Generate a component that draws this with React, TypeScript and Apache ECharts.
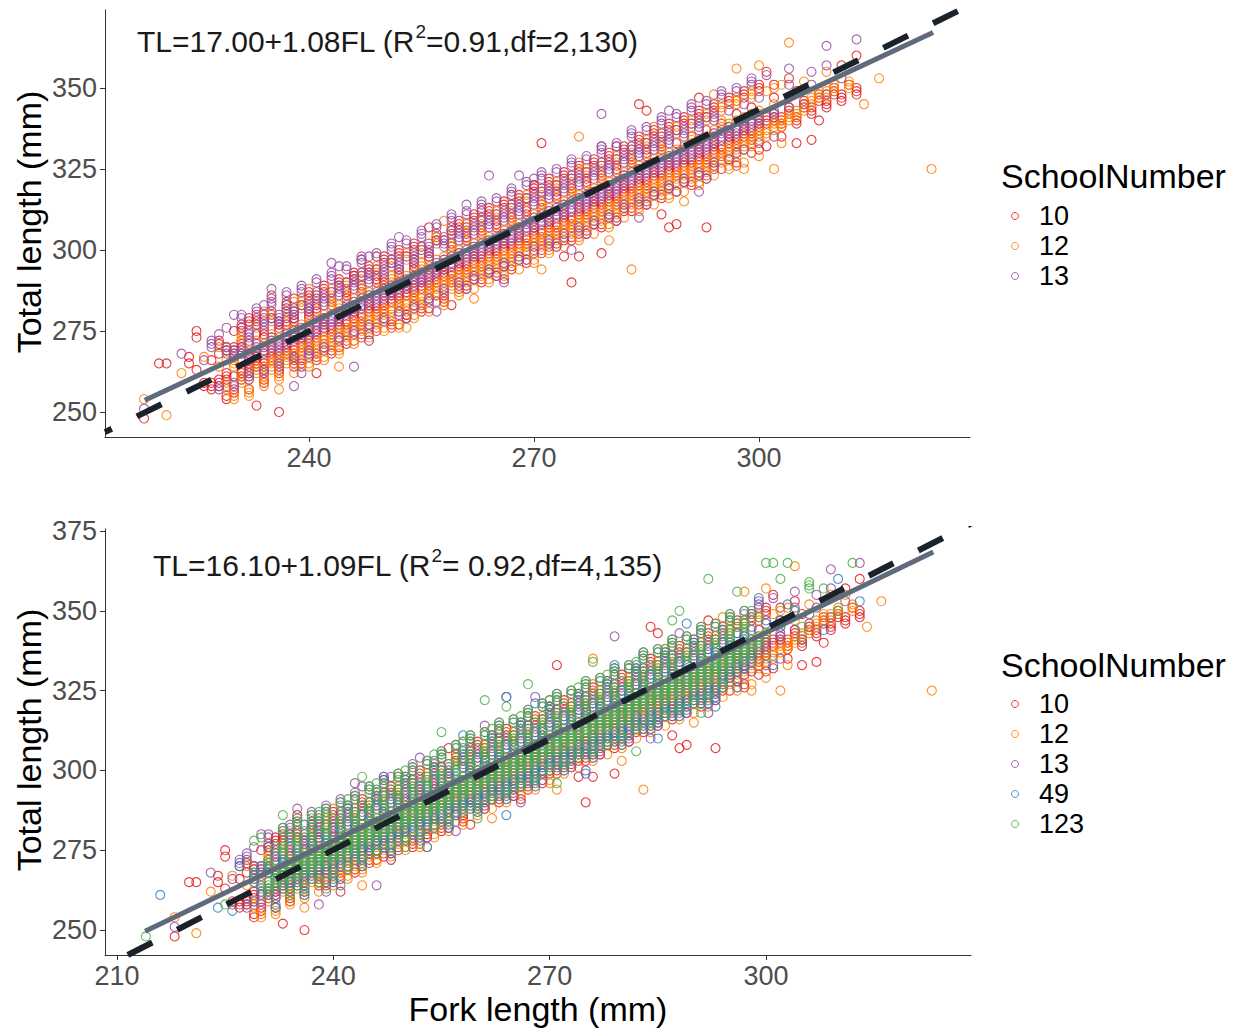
import React, { useEffect, useRef } from "react";
import * as echarts from "echarts";

// ---------- DATA: "Fork length : Total length values / runs" (mm) ----------
const schools = ["10", "12", "13", "49", "123"];
const schoolColors = ["#E41A1C", "#FF7F00", "#984EA3", "#377EB8", "#4DAF4A"];

const school10 = [
  "218:248", "220:265", "221:265", "224:265,267", "225:263,273,275", "226:258-259", "227:257-259,266",
  "228:258-260,268", "229:260-262,269-270", "230:261,268-270,275", "231:260-263,270-272",
  "232:262-265,271,277-279", "233:264-267,274", "234:263-266,273-275,280", "235:266-269,286",
  "236:250,266-268,275-278", "237:268-271,277-279", "238:267-270,278-281", "239:270-273,283",
  "240:269-272,279-282", "241:272-275,281-283", "242:271,275-279", "243:273-276,283-285", "244:270,276-279",
  "245:275-278,285-288", "246:278-281,292", "247:277-280,287-289", "248:274,281-284", "249:280-283,290-292",
  "250:281-284,289-291", "251:284-287,296", "252:283-286,292-294", "253:280,286-289", "254:285-288,294-297",
  "255:283,288-291", "256:287-290,297-299", "257:286,290-293", "258:292-295,303", "259:290-293,300-302",
  "260:288,294-297", "261:293-296,303-306", "262:291,296-299", "263:295-298,305-307", "264:293,298-301",
  "265:297-300,307-309", "266:295,300-303", "267:299-302,309-311", "268:297,302-305", "269:301-304,311-313",
  "270:299,304-307", "271:303-306,313-315,333", "272:301,306-309", "273:305-308,316-318", "274:303,308-311",
  "275:290,307-310,318-320", "276:298,305,310-313", "277:310-313,320-322", "278:308,313-316",
  "279:299,312-315,322-324", "280:310,315-318", "281:314-317,324-326", "282:312,317-320",
  "283:317-320,327-329", "284:314,320-323,345", "285:319-322,329-331", "286:317,322-325",
  "287:321-324,331-333", "288:307,319,324-327", "289:308,323-326,333", "290:321,326-329", "291:325-328,335",
  "292:323,328-331", "293:307,327-330,337", "294:325,330-333", "295:329-332,339", "296:328,333-336",
  "297:332-335,342", "298:335-338", "299:334-337,344", "300:331,337-340", "301:339-341", "302:340-342,347",
  "303:338-341", "304:342-344", "305:339-341,349", "306:344-346", "307:334,342-344", "308:340,346-348",
  "309:344-346", "310:348-350", "311:346-348,357", "312:351", "313:348-350,360",
];
const school10Fringe = [
  "228:271-272", "229:254-255", "230:256-257", "231:275-277", "232:257", "233:278-280", "234:259-260",
  "235:279-281", "236:262-263", "237:283-284", "238:264-265,285", "239:264-266", "240:285-287",
  "241:266-268", "242:287-289", "243:268-269", "244:289-291", "245:271-272", "246:272,291-293",
  "247:273-274", "248:293-295", "249:275-276", "250:296-298", "251:276-278", "252:298-300", "253:279-280",
  "254:300-302", "255:281-282", "256:282,302", "257:303-305", "258:284-286", "259:306-307", "260:307-309",
  "261:288-289", "262:309-311", "263:290-291", "264:311-313", "265:292-293", "266:313-315", "267:294-295",
  "268:315-317", "269:296-297", "270:318-320", "271:299-300", "272:320-322", "273:301-302", "274:322-324",
  "275:303-304", "276:324-326", "277:305-306", "278:326-328", "279:307-308", "280:328-330", "281:309-310",
  "282:330-332", "283:312-313", "284:333-335", "285:314-315", "286:335-337", "287:316-317", "288:337-339",
  "289:318", "290:339-341", "291:320-321", "292:341-343", "293:322-323", "294:343-345", "295:325",
  "296:345-347", "297:327", "298:347-349", "299:330", "300:349-351", "301:332", "302:351", "303:335",
  "304:353",
];
const school10Outliers = [
  "233:252", "241:262", "247:297", "252:277", "256:307", "259:283", "263:312", "266:291", "270:320",
  "274:298", "281:332", "285:343", "287:311", "292:347", "297:326", "301:355", "305:333",
];

const school12 = [
  "218:254", "221:249", "223:262", "226:267", "228:264,270", "229:257-259,266", "230:264-266",
  "231:259-261,268", "232:260-262,267-269", "233:262-264,272", "234:261-264,269-271,281",
  "235:263-266,272-274", "236:264-267,271-273", "237:265-268,275", "238:265-268,273-276,284",
  "239:267-270,277,285", "240:268-271,275-278", "241:268-271,279", "242:270-273,277-280",
  "243:270-273,282-284", "244:272-275,280-283", "245:273-276,284,290", "246:275-278,282-285",
  "247:275-278,286-288", "248:277-280,284-287", "249:277-280,288,295", "250:279-282,286-289",
  "251:279-282,290-292", "252:281-284,288-291", "253:281-284,292,299", "254:283-286,290-293",
  "255:283-286,294-296", "256:285-288,292-295", "257:286-289,297,304", "258:288-291,295-298",
  "259:288-291,299-301", "260:290-293,297-300", "261:290-293,301,308", "262:292-295,299-302",
  "263:292-295,303-305", "264:294-297,301-304", "265:294-297,305,312", "266:296-299,303-306",
  "267:296-299,307-309", "268:298-301,305-308", "269:299-302,310,316", "270:301-304,308-311",
  "271:301-304,312-314", "272:303-306,310-313", "273:303-306,314,320", "274:305-308,312-315",
  "275:305-308,316-318", "276:307-310,314-317,335", "277:307-310,318,324", "278:309-312,316-319",
  "279:309-312,320-322", "280:311-314,318-321", "281:311-314,322,328", "282:313-316,321-324",
  "283:294,314-317,325-327", "284:316-319,323-326", "285:316-319,327,333", "286:318-321,325-328",
  "287:318-321,329-331", "288:320-323,327-330", "289:320-323,331,337", "290:322-325,329-332",
  "291:322-325,333-335", "292:324-327,331-334", "293:324-327,335,341", "294:326-329,334-337",
  "295:327-330,338-340", "296:329-332,336-339", "297:329-332,340,346", "298:331-334,338-341",
  "299:332-335,342", "300:334-337,340-343", "301:335-337,349", "302:325,337-340,345", "303:338-340,351",
  "304:340-342,347,364", "305:341-343", "306:343-345,352", "307:345-347", "308:347-349",
  "309:347-349,355", "310:349-351", "311:355", "312:350-352", "314:345", "316:353", "323:325",
];
const school12Fringe = [
  "229:269-270", "230:254-255", "231:272-274", "232:255-257", "233:276-277", "234:258-259", "235:278-280",
  "236:260-261", "237:280-282", "238:262", "239:282-284", "240:264-265", "241:284-286", "242:266-267",
  "243:286-288", "244:268-269", "245:288-290", "246:271-272", "247:291-293", "248:272-273", "249:293-294",
  "250:275-276", "251:295-297", "252:276-277", "253:297-298", "254:279-280", "255:299-301", "256:281",
  "257:302-304", "258:283-284", "259:304-306", "260:286-287", "261:306-308", "262:288", "263:308-310",
  "264:290-291", "265:310-312", "266:292-293", "267:312-314", "268:294", "269:315-317", "270:296-297",
  "271:317-319", "272:299-300", "273:319-321", "274:301", "275:321-323", "276:303-304", "277:323-325",
  "278:305", "279:325-327", "280:307-308", "281:327-329", "282:310", "283:330-332", "284:312-313",
  "285:332-334", "286:314", "287:334-336", "288:316-317", "289:336-338", "290:318", "291:338-340",
  "292:320-321", "293:340-342", "294:323", "295:343-345", "296:325-326", "297:345-347", "298:327",
  "299:347-349", "300:329", "302:350", "303:333",
];
const school12Outliers = [
  "236:257", "240:288", "244:264", "249:298", "253:276", "258:309", "262:285", "267:317", "271:294",
  "276:327", "280:303", "286:338", "290:315", "294:348", "298:325", "300:357", "297:356",
];

const school13 = [
  "218:251", "223:268", "226:266", "227:270-272", "228:274", "229:276", "230:267-269,280",
  "231:268-270,276", "232:266-268,272-275", "233:268-271,277", "234:268-270,276-279,283",
  "235:270-273,279", "236:269-272,277-280", "237:271-274,281-283", "238:258,272-275,279-282",
  "239:273-276,283", "240:273-276,281-284", "241:275-278,285-287", "242:276-279,283-286",
  "243:277-280,287,296", "244:278-281,286-289", "245:280-283,290", "246:264,281-284,288-291",
  "247:282-285,292-293", "248:283-286,290-293,298", "249:284-287,294", "250:285-288,292-295",
  "251:286-289,296-297", "252:287-290,294-297", "253:279,288-291,298", "254:289-292,296-299",
  "255:290-293,300-301", "256:291-294,298-301", "257:284,293-296,303", "258:294-297,301-304",
  "259:295-298,305-306", "260:296-299,303-306", "261:288,297-300,307", "262:298-301,305-308",
  "263:299-302,309-310", "264:300-303,307-310,323", "265:292,301-304,311", "266:302-305,309-312",
  "267:303-306,313-314", "268:304-307,311-314,323", "269:297,306-309,316", "270:307-310,314-317",
  "271:308-311,318-319", "272:309-312,316-319", "273:301,310-313,320", "274:311-314,318-321",
  "275:312-315,322-323", "276:313-316,320-323", "277:305,314-317,324", "278:315-318,322-325",
  "279:316-319,326-327,342", "280:317-320,324-327", "281:309,318-321,328", "282:320-323,327-330",
  "283:321-324,331-332", "284:322-325,329-332", "285:314,323-326,333", "286:324-327,331-334",
  "287:325-328,335-336", "288:326-329,333-336", "289:318,327-330,337", "290:328-331,335-338",
  "291:329-332,339", "292:330-333,337-340", "293:322,331-334,341", "294:333-336,340-342",
  "295:334-337", "296:335-338,343", "297:330,336-338", "298:337-340,345", "299:338-340",
  "300:339-341,347", "302:341-343", "304:344,351", "306:345", "307:351", "309:348,357", "311:353",
  "313:365",
];
const school13Fringe = [
  "228:257-258", "229:268-270", "230:258-259", "231:279-280", "232:260-262", "233:281-282", "234:262-263",
  "235:283-285", "236:264-265", "237:286-287", "238:266-267", "239:287-289", "240:267-269", "241:290-291",
  "242:269-270", "243:291-293", "244:272-273", "245:294-295", "246:274-275", "247:296-298", "248:276-277",
  "249:298-299", "250:278-279", "251:300-302", "252:280-281", "253:302-303", "254:282-283", "255:304-306",
  "256:284-285", "257:307-308", "258:287-288", "259:309-311", "260:289-290", "261:311-312", "262:291-292",
  "263:313-315", "264:293-294", "265:315-316", "266:295-296", "267:317-319", "268:297-298", "269:320-321",
  "270:300-301", "271:322-324", "272:302-303", "273:324-325", "274:304-305", "275:326-328", "276:306-307",
  "277:328-329", "278:308-309", "279:330-332", "280:310-311", "281:332-333", "282:313-314", "283:335-337",
  "284:315-316", "285:337-338", "286:317-318", "287:339-341", "288:319-320", "289:341-342", "290:321-322",
  "291:343-345", "292:323-324", "293:345-346", "294:326-327", "295:347-349", "296:328", "297:349-350",
  "298:331", "299:351-353", "300:333", "301:354", "302:335",
];
const school13Outliers = [
  "235:288", "239:262", "244:295", "248:272", "252:304", "257:281", "261:314", "266:290", "270:322",
  "275:300", "279:332", "284:310", "288:343", "292:318", "304:356", "307:355", "309:363",
];

const school49 = [
  "216:261", "224:257", "226:256", "227:270", "228:273", "229:259,265-267", "230:262-264,270",
  "231:261-263,268-270", "232:264-266,273", "233:263-266,271-273", "234:265-268,276,282",
  "235:264-267,273-276", "236:267-270,278", "237:266-269,275-278", "238:269-272,280,286",
  "239:268-271,277-280", "240:271-274,282", "241:270-273,279-282", "242:273-276,284,289",
  "243:272-275,281-284", "244:275-278,286", "245:274-277,284-287", "246:277-280,289,294",
  "247:276-279,286-289", "248:279-282,291", "249:278-281,288-291", "250:281-284,293,298",
  "251:280-283,290-293", "252:283-286,295", "253:282-285,292-295", "254:285-288,297,303",
  "255:284-287,294-297", "256:287-290,299", "257:286-289,296-299", "258:289-292,301,307",
  "259:288-291,299-302", "260:291-294,304", "261:290-293,301-304", "262:293-296,306,311",
  "263:292-295,303-306", "264:295-298,308,323", "265:294-297,305-308", "266:297-300,310,315",
  "267:296-299,307-310", "268:299-302,312", "269:299-302,310-313", "270:302-305,315,320",
  "271:301-304,312-315", "272:304-307,317", "273:303-306,314-317", "274:306-309,319,324",
  "275:305-308,316-319", "276:308-311,321", "277:307-310,318-321", "278:310-313,323,328",
  "279:309-312,320-323", "280:312-315,325", "281:311-314,322-325", "282:314-317,327,333",
  "283:313-316,325-328", "284:316-319,330", "285:315-318,327-330", "286:318-321,332,337",
  "287:317-320,329-332", "288:320-323,334", "289:319-322,331-334", "290:322-325,336,341",
  "291:321-324,333-336", "292:324-327,338", "293:323-326,335-338", "294:327-330,340",
  "295:329-331,338-341", "296:331-333,343", "297:332-334,340-343", "298:334-336,344", "300:336,346",
  "302:345-347", "303:352", "304:350", "305:341", "306:349", "308:344", "310:360", "313:353",
];
const school49Fringe = [
  "232:257-258", "234:279-280", "236:261-262", "238:283-284", "240:265-266", "242:287-288", "244:270-271",
  "246:291-292", "248:274-275", "250:296-297", "252:278-279", "254:300-301", "256:282-283", "258:305-306",
  "260:287-288", "262:309-310", "264:291-292", "266:313-314", "268:295-296", "270:318-319", "272:300-301",
  "274:322-323", "276:304-305", "278:326-327", "280:308-309", "282:331-332", "284:313-314", "286:335-336",
  "288:317-318", "290:339-340", "292:321-322", "294:344", "296:326",
];
const school49Outliers = [
  "231:276", "236:283", "241:264", "247:298", "253:276", "258:311", "264:286", "268:321", "275:299",
  "279:333", "285:310", "289:346", "293:320", "298:349", "301:333", "299:354",
];

const school123 = [
  "214:248", "225:258", "229:278", "230:279", "231:262-265,270-272", "232:264-269,276",
  "233:265-270,274-277", "234:266-272,279", "235:267-273,276-279", "236:268-274,281",
  "237:269-275,278-281", "238:270-276,283,287", "239:271-277,280-283", "240:272-278,285",
  "241:273-279,282-285", "242:274-280,287,291", "243:275-281,284-287", "244:277-283,289",
  "245:278-284,287-290", "246:279-285,292,296", "247:280-286,289-292", "248:281-287,294",
  "249:282-288,291-294", "250:283-289,296,300", "251:284-290,293-296", "252:285-291,298",
  "253:286-292,295-298", "254:287-293,300,305", "255:288-294,297-300", "256:289-295,302",
  "257:291-297,300-303", "258:292-298,305,309", "259:293-299,302-305", "260:294-300,307",
  "261:295-301,304-307,322", "262:296-302,309,313", "263:297-303,306-309", "264:298-304,311",
  "265:299-305,308-311", "266:300-306,313,317", "267:301-307,310-313,327", "268:302-308,315",
  "269:304-310,313-316", "270:305-311,318,322", "271:306-312,315-318", "272:307-313,320",
  "273:308-314,317-320", "274:309-315,322,326", "275:310-316,319-322", "276:311-317,324",
  "277:312-318,321-324", "278:313-319,326,330", "279:314-320,323-326", "280:315-321,328",
  "281:316-322,325-328", "282:318-324,330,334", "283:319-325,328-331", "284:320-326,333",
  "285:321-327,330-333", "286:322-328,335,338", "287:323-329,332-335", "288:324-330,337,350",
  "289:325-331,334-337", "290:326-332,339", "291:327-333,336-339", "292:328-334,341,360",
  "293:329-335,339-341", "294:331-337,343", "295:332-338,341-344", "296:334-339,346",
  "297:335-340,344-347", "298:337-341,350", "299:339-342,348", "300:343,365", "301:365", "303:365",
  "305:345", "306:357-359", "308:357", "310:350", "312:365",
];
const school123Fringe = [
  "233:281-282", "234:261-262", "235:283-285", "236:263-264", "237:284-286", "238:265-266", "239:286-288",
  "240:267-268", "241:289-290", "242:269-270", "243:291-292", "244:272-273", "245:293-295", "246:274-275",
  "247:295-296", "248:276-277", "249:297-299", "250:278-279", "251:300-301", "252:280-281", "253:302-303",
  "254:282-283", "255:304-306", "256:284-285", "257:307-308", "258:287-288", "259:309-311", "260:289-290",
  "261:311-312", "262:291-292", "263:313-315", "264:293-294", "265:315-316", "266:295-296", "267:317-319",
  "268:297-298", "269:320-321", "270:300-301", "271:322-324", "272:302-303", "273:324-325", "274:304-305",
  "275:326-328", "276:306-307", "277:328-329", "278:308-309", "279:330-332", "280:310-311", "281:332-333",
  "282:313-314", "283:335-337", "284:315-316", "285:337-338", "286:317-318", "287:339-341", "288:319-320",
  "289:341-342", "290:321-322", "291:343-345", "292:323-324", "293:345-346", "294:326-327", "295:347-349",
  "296:346", "297:350",
];
const school123Outliers = [
  "229:268", "233:286", "239:263", "244:298", "250:276", "255:312", "260:285", "264:320", "271:296",
  "276:334", "282:306", "287:347", "291:318", "296:356", "302:360", "304:350",
];

// Fitted lines: [FL, TL] end points
const fitTop = [[218.1, 253.6], [323.2, 367.1]];
const refTop = [[212.8, 243.8], [328.13, 375.6]];
const fitBottom = [[213.9, 249.6], [323.2, 368.4]];
const refBottom = [[211.5, 242.17], [328.43, 377.34]];

// Axes
const xRangeTop = [212.8, 328.13];
const yRangeTop = [242.28, 374.07];
const xRangeBottom = [208.34, 328.43];
const yRangeBottom = [242.17, 375.63];
const xTicksTop = [240, 270, 300];
const yTicksTop = [250, 275, 300, 325, 350];
const xTicksBottom = [210, 240, 270, 300];
const yTicksBottom = [250, 275, 300, 325, 350, 375];

const eqTop = { pre: "TL=17.00+1.08FL (R", sup: "2", post: "=0.91,df=2,130)" };
const eqBottom = { pre: "TL=16.10+1.09FL (R", sup: "2", post: "= 0.92,df=4,135)" };

// ---------------------------------------------------------------
function expand(cols: string[]): number[][] {
  const pts: number[][] = [];
  for (const c of cols) {
    const [f, rest] = c.split(":");
    const fl = Number(f);
    for (const seg of rest.split(",")) {
      if (seg.includes("-")) {
        const [a, b] = seg.split("-").map(Number);
        for (let t = a; t <= b; t++) pts.push([fl, t]);
      } else pts.push([fl, Number(seg)]);
    }
  }
  return pts;
}

const FONT = "Arial, 'Liberation Sans', sans-serif";

export default function App() {
  const ref = useRef<HTMLDivElement>(null);
  useEffect(() => {
    if (!ref.current) return;
    const chart = echarts.init(ref.current, null, { renderer: "svg" });
    const schoolData = [
      [school10, school10Fringe, school10Outliers],
      [school12, school12Fringe, school12Outliers],
      [school13, school13Fringe, school13Outliers],
      [school49, school49Fringe, school49Outliers],
      [school123, school123Fringe, school123Outliers],
    ].map((parts) => parts.flatMap(expand));

    const axisCommon = (ticks: number[], isX: boolean) => ({
      type: "value",
      axisLine: { show: true, lineStyle: { color: "#333", width: 1 } },
      axisTick: { show: true, length: 5, lineStyle: { color: "#333" }, customValues: ticks },
      axisLabel: {
        customValues: ticks,
        color: "#4d4d4d",
        fontSize: 27,
        fontFamily: FONT,
        margin: isX ? 7 : 8,
      },
      splitLine: { show: false },
    });

    const scatter = (idx: number, axis: number) => ({
      type: "scatter",
      name: schools[idx],
      xAxisIndex: axis,
      yAxisIndex: axis,
      data: schoolData[idx],
      symbol: "circle",
      symbolSize: 9,
      progressive: 0,
      silent: true,
      itemStyle: {
        color: "rgba(0,0,0,0)",
        borderColor: schoolColors[idx],
        borderWidth: 1.1,
        opacity: 0.85,
      },
      z: 2,
    });

    const line = (data: number[][], axis: number, dashed: boolean, offset = 0) => ({
      type: "line",
      xAxisIndex: axis,
      yAxisIndex: axis,
      data,
      symbol: "none",
      silent: true,
      clip: true,
      lineStyle: dashed
        ? { color: "#1b222c", width: 6, type: [27.5, 28], dashOffset: offset, cap: "butt" }
        : { color: "#5f6b7a", width: 5 },
      z: dashed ? 4 : 3,
    });

    const eqText = (eq: any, x: number, y: number) => ({
      type: "text",
      left: x,
      top: y,
      style: {
        text: `{a|${eq.pre}}{s|${eq.sup}}{a|${eq.post}}`,
        rich: {
          a: { fontSize: 30, fontFamily: FONT, fill: "#1a1a1a", lineHeight: 34, verticalAlign: "bottom" },
          s: { fontSize: 19, fontFamily: FONT, fill: "#1a1a1a", lineHeight: 34, verticalAlign: "top", padding: [0, 0, 16, 0] },
        },
      },
    });

    const legend = (titleY: number, itemY: number[], n: number) => {
      const els: any[] = [
        {
          type: "text",
          x: 1001,
          y: titleY,
          style: { text: "SchoolNumber", fontSize: 34, fontFamily: FONT, fill: "#000", verticalAlign: "middle" },
        },
      ];
      for (let i = 0; i < n; i++) {
        els.push({
          type: "circle",
          shape: { cx: 1015, cy: itemY[i], r: 3.5 },
          style: { fill: "none", stroke: schoolColors[i], lineWidth: 1, opacity: 0.85 },
        });
        els.push({
          type: "text",
          x: 1039,
          y: itemY[i],
          style: { text: schools[i], fontSize: 27, fontFamily: FONT, fill: "#000", verticalAlign: "middle" },
        });
      }
      return els;
    };

    const option: any = {
      animation: false,
      grid: [
        { left: 105, top: 10, width: 865, height: 427, containLabel: false },
        { left: 105, top: 529, width: 866, height: 426, containLabel: false },
      ],
      xAxis: [
        { ...axisCommon(xTicksTop, true), gridIndex: 0, min: xRangeTop[0], max: xRangeTop[1] },
        { ...axisCommon(xTicksBottom, true), gridIndex: 1, min: xRangeBottom[0], max: xRangeBottom[1] },
      ],
      yAxis: [
        { ...axisCommon(yTicksTop, false), gridIndex: 0, min: yRangeTop[0], max: yRangeTop[1] },
        { ...axisCommon(yTicksBottom, false), gridIndex: 1, min: yRangeBottom[0], max: yRangeBottom[1] },
      ],
      series: [
        scatter(0, 0), scatter(1, 0), scatter(2, 0),
        line(fitTop, 0, false), line(refTop, 0, true, 20),
        scatter(0, 1), scatter(1, 1), scatter(2, 1), scatter(3, 1), scatter(4, 1),
        line(fitBottom, 1, false), line(refBottom, 1, true, 0),
      ],
      graphic: [
        eqText(eqTop, 137, 22),
        eqText(eqBottom, 153, 546),
        {
          type: "text",
          x: 29,
          y: 222,
          rotation: Math.PI / 2,
          style: { text: "Total length (mm)", fontSize: 34, fontFamily: FONT, fill: "#000", align: "center", verticalAlign: "middle" },
        },
        {
          type: "text",
          x: 29,
          y: 740,
          rotation: Math.PI / 2,
          style: { text: "Total length (mm)", fontSize: 34, fontFamily: FONT, fill: "#000", align: "center", verticalAlign: "middle" },
        },
        {
          type: "text",
          x: 538,
          y: 1009,
          style: { text: "Fork length (mm)", fontSize: 34, fontFamily: FONT, fill: "#000", align: "center", verticalAlign: "middle" },
        },
        ...legend(176, [216, 246, 276], 3),
        ...legend(665, [704, 734, 764, 794, 824], 5),
      ],
    };
    chart.setOption(option);
    return () => chart.dispose();
  }, []);
  return (
    <div
      ref={ref}
      style={{ position: "fixed", left: 0, top: 0, width: 1242, height: 1030, background: "#fff" }}
    />
  );
}
